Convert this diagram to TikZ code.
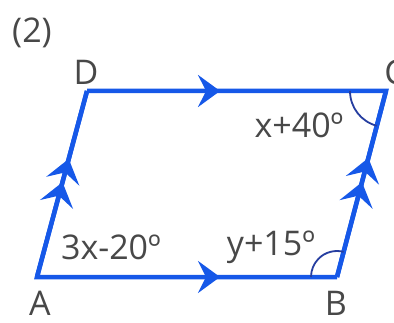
\documentclass[tikz,border=0pt]{standalone}
\usepackage{fontspec}
\setmainfont{Open Sans}
\usetikzlibrary{arrows.meta,decorations.markings}
\definecolor{edgeblue}{RGB}{22,88,232}
\definecolor{txtgray}{RGB}{72,72,72}
\definecolor{arcblue}{RGB}{38,62,160}
\begin{document}
\begin{tikzpicture}[x=1pt,y=1pt,
  lbl/.style={text=txtgray, font=\fontsize{34}{34}\selectfont, inner sep=0pt},
  side/.style={draw=edgeblue, line width=4.5pt},
  onearrow/.style={postaction={decorate}, decoration={markings,
     mark=at position #1 with {\arrow[edgeblue]{Stealth[length=22pt,width=32pt,inset=8pt]}}}},
  twoarrow/.style 2 args={postaction={decorate}, decoration={markings,
     mark=at position #1 with {\arrow[edgeblue]{Stealth[length=23pt,width=34pt,inset=9pt]}},
     mark=at position #2 with {\arrow[edgeblue]{Stealth[length=23pt,width=34pt,inset=9pt]}}}},
  anglemark/.style={draw=arcblue, line width=1.8pt}]
\useasboundingbox (0,0) rectangle (394,322);
\coordinate (A) at (37,45);
\coordinate (B) at (337,45);
\coordinate (C) at (386,231);
\coordinate (D) at (87,231);
% sides
\draw[side, onearrow=0.61] (A) -- (B);
\draw[side, onearrow=0.445] (D) -- (C);
\draw[side, twoarrow={0.51}{0.635}] (A) -- (D);
\draw[side, twoarrow={0.51}{0.64}] (B) -- (C);
\draw[side, line join=miter] (D) -- (A) -- (B);
\draw[side, line join=miter] (D) -- (C) -- (B);
% angle marks
\draw[anglemark] ([shift={(180:36)}]C) arc[start angle=180, end angle=255.2, radius=36];
\draw[anglemark] ([shift={(75.2:26)}]B) arc[start angle=75.2, end angle=180, radius=26];
% labels
\node[lbl] (t2) at (32,289) {(2)};
\node[lbl] (lA) at (40,19) {A};
\node[lbl] (lB) at (336,19) {B};
\node[lbl] (lC) at (395,250) {C};
\node[lbl] (lD) at (86,250) {D};
\node[lbl] (aC) at (299,197) {x+40º};
\node[lbl] (aA) at (111,75) {3x-20º};
\node[lbl] (aB) at (271,75) {y+15º};
\end{tikzpicture}
\end{document}
